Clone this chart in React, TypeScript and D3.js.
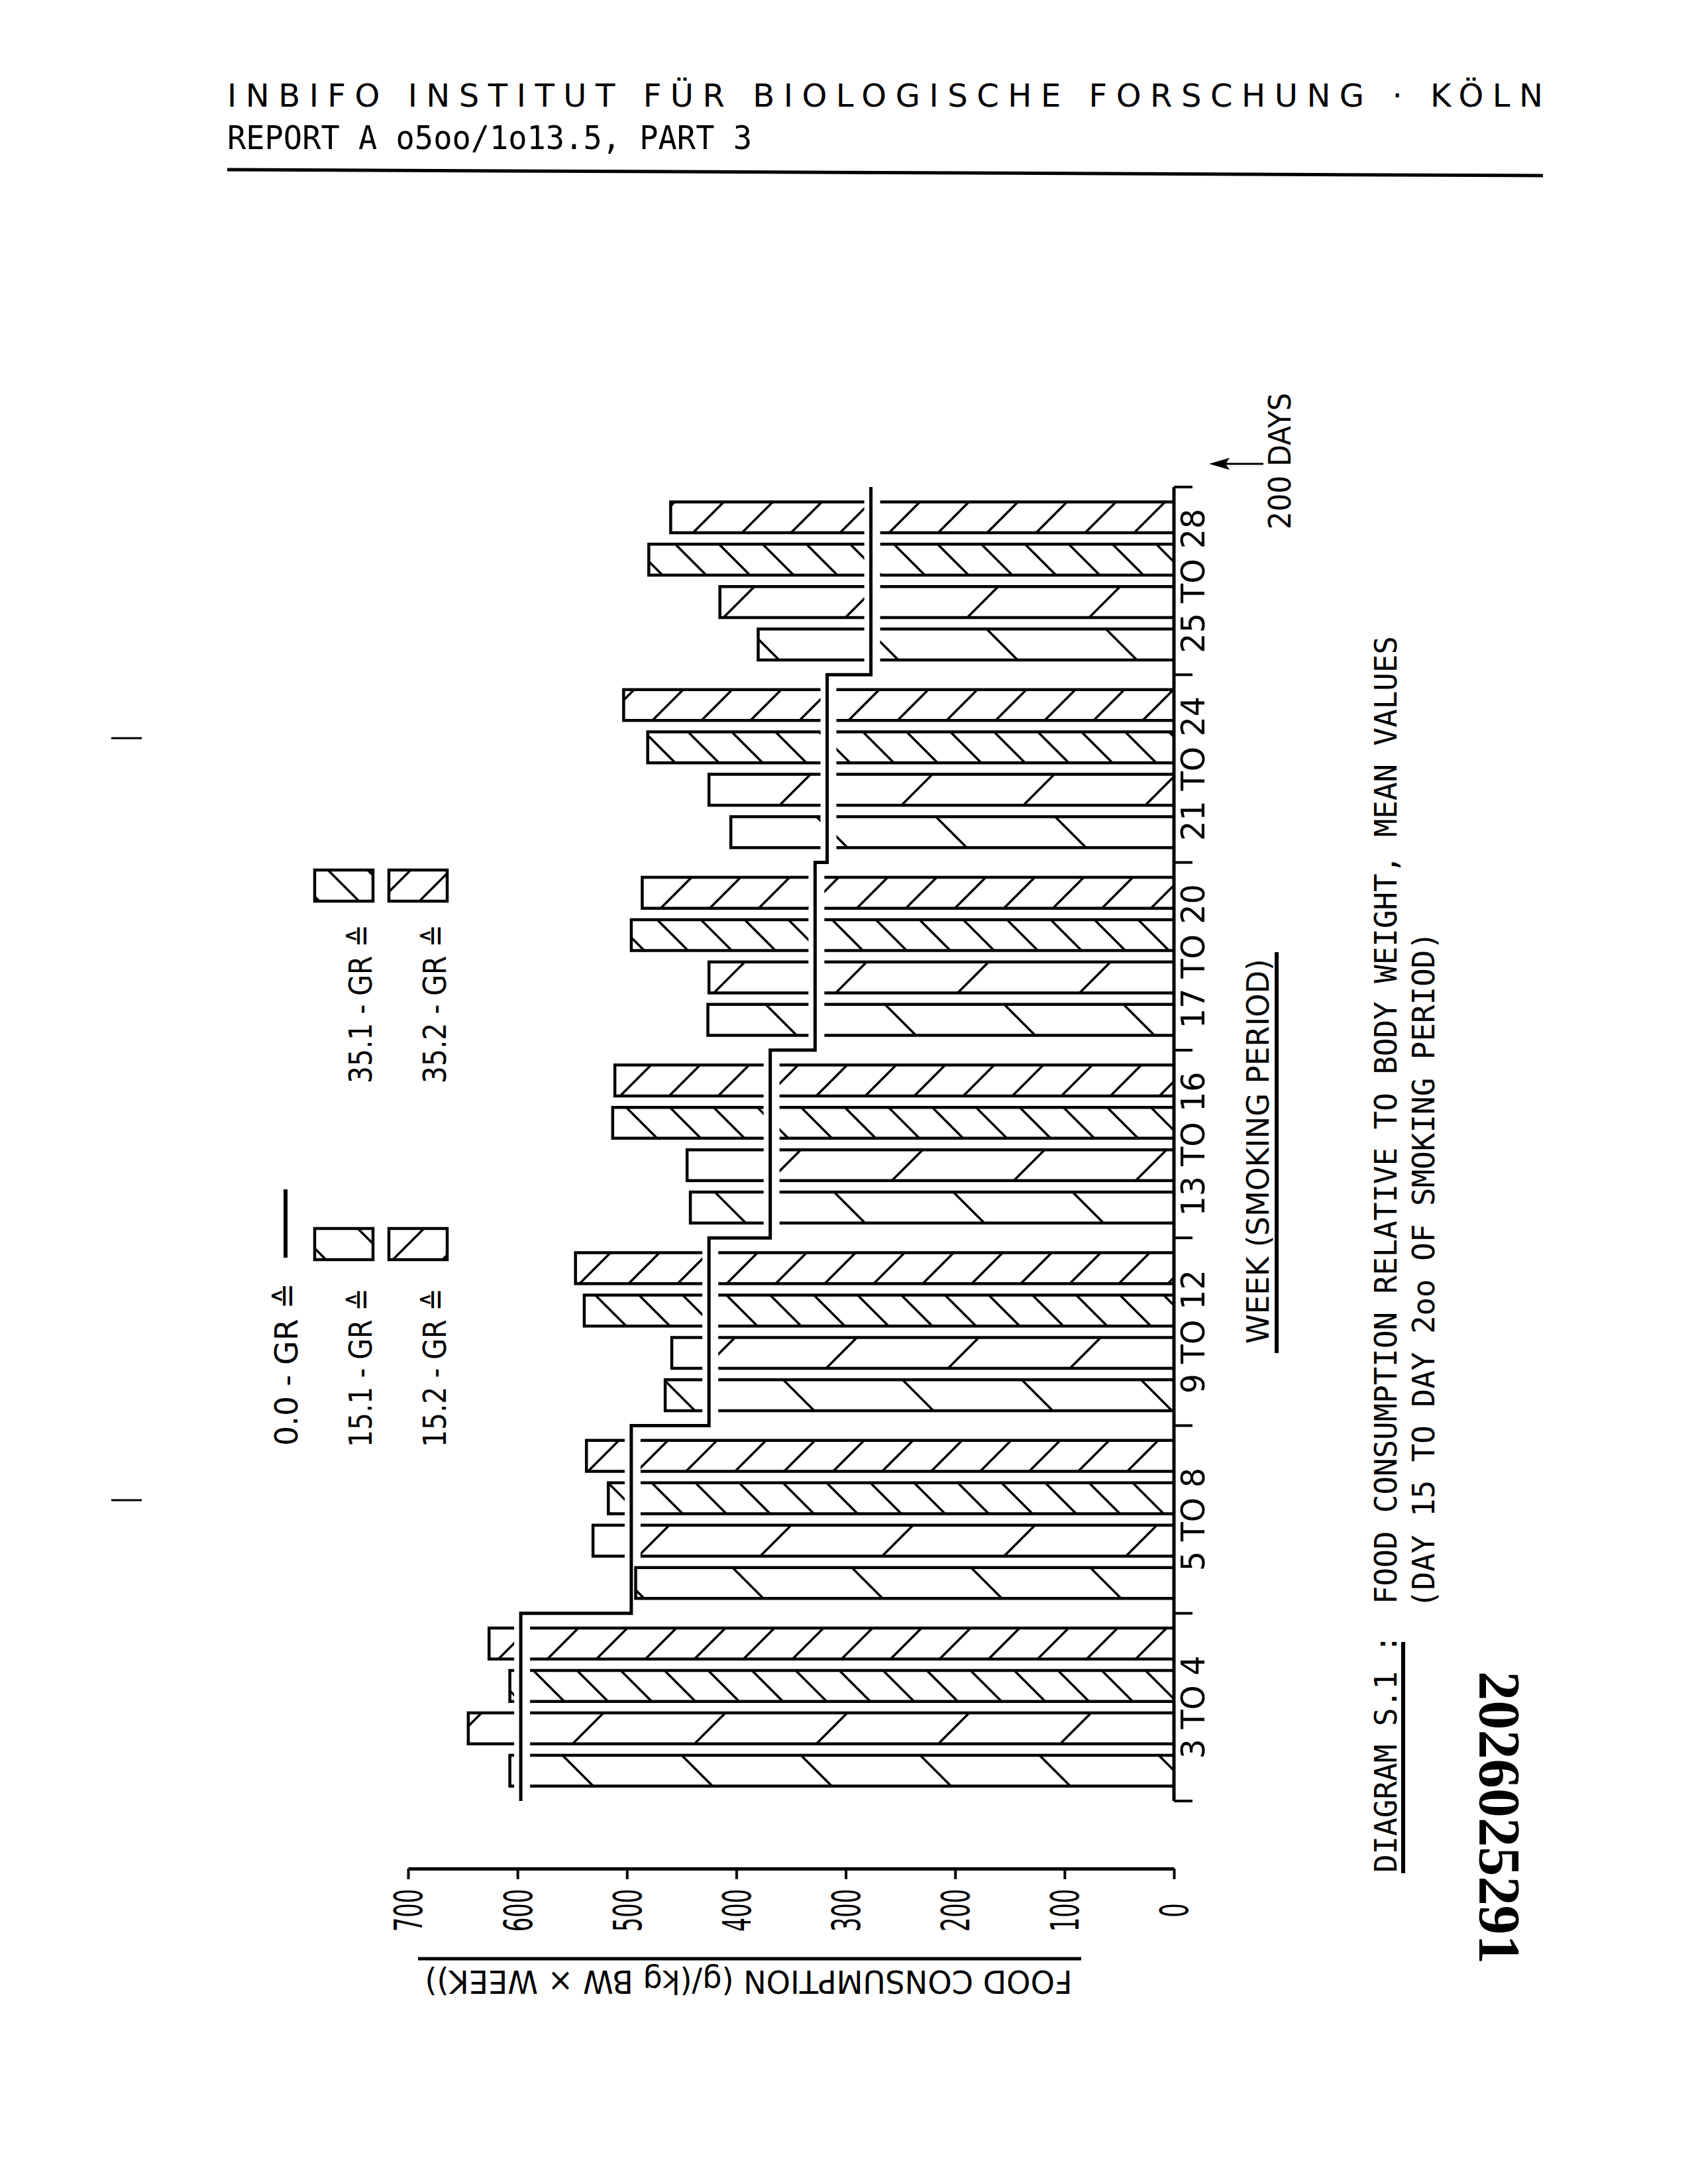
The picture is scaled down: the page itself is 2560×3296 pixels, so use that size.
import React, { useRef, useEffect } from 'react'
import * as d3 from 'd3'

// week groups along the category axis (page bottom -> top)
const weekGroups = ['3 TO 4', '5 TO 8', '9 TO 12', '13 TO 16', '17 TO 20', '21 TO 24', '25 TO 28']
// 0.0 GR control, drawn as a step line
const control = [597, 496, 425, 369, 328, 317, 277]
const gr151 = [607, 492, 465, 442, 426, 405, 380]
const gr152 = [645, 531, 459, 445, 425, 425, 415]
const gr351 = [607, 517, 539, 513, 496, 481, 480]
const gr352 = [626, 537, 547, 511, 486, 503, 460]
const seriesKeys = ['15.1', '15.2', '35.1', '35.2']
const valueTicks = [0, 100, 200, 300, 400, 500, 600, 700]

const LETTER = '"DejaVu Sans", "Noto Sans", sans-serif'
const TYPE = '"DejaVu Sans Mono", "Liberation Mono", monospace'

interface TextOpts {
  size: number
  rotate?: number
  anchor?: string
  family?: string
  weight?: string
  length?: number
  adjust?: string
  dy?: string
}

function addText(parent: any, t: string, x: number, y: number, o: TextOpts) {
  const el = parent
    .append('text')
    .attr('transform', `translate(${x},${y}) rotate(${o.rotate ?? 0})`)
    .attr('text-anchor', o.anchor ?? 'start')
    .attr('font-family', o.family ?? LETTER)
    .attr('font-size', o.size)
    .attr('font-weight', o.weight ?? 'normal')
    .attr('fill', '#000')
    .text(t)
  if (o.dy) el.attr('dy', o.dy)
  if (o.length) el.attr('textLength', o.length).attr('lengthAdjust', o.adjust ?? 'spacingAndGlyphs')
  return el
}

const App: React.FC = () => {
  const svgRef = useRef<SVGSVGElement>(null)

  useEffect(() => {
    if (!svgRef.current) return
    const svg = d3.select(svgRef.current)
    svg.selectAll('*').remove()

    svg.append('rect').attr('width', 2560).attr('height', 3296).attr('fill', '#fff')

    // hatch patterns ("\" when back is true, "/" otherwise)
    const defs = svg.append('defs')
    const hatch = (id: string, s: number, back: boolean, ox = 0, oy = 0) => {
      const p = defs
        .append('pattern')
        .attr('id', id)
        .attr('patternUnits', 'userSpaceOnUse')
        .attr('x', ox)
        .attr('y', oy)
        .attr('width', s)
        .attr('height', s)
      const d = back
        ? `M0,0L${s},${s}M${s - 3},-3L${s + 3},3M-3,${s - 3}L3,${s + 3}`
        : `M0,${s}L${s},0M-3,3L3,-3M${s - 3},${s + 3}L${s + 3},${s - 3}`
      p.append('path').attr('d', d).attr('stroke', '#000').attr('stroke-width', 3.5).attr('fill', 'none')
    }
    hatch('h151', 180, true)
    hatch('h152', 184, false)
    hatch('h351', 66, true)
    hatch('h352', 74, false)
    // legend swatches get their own phase so the lines land inside the small boxes
    hatch('l151', 95, true, 445, 1854)
    hatch('l152', 75, false, 640, 1854)
    hatch('l351', 60, true, 435, 1313)
    hatch('l352', 60, false, 620, 1313)
    const fills: { [k: string]: string } = {
      '15.1': 'url(#h151)',
      '15.2': 'url(#h152)',
      '35.1': 'url(#h351)',
      '35.2': 'url(#h352)',
    }
    const values: { [k: string]: number[] } = { '15.1': gr151, '15.2': gr152, '35.1': gr351, '35.2': gr352 }

    // header
    addText(svg, 'INBIFO INSTITUT FÜR BIOLOGISCHE FORSCHUNG · KÖLN', 343, 161, {
      size: 48,
      length: 1986,
      adjust: 'spacing',
    })
    addText(svg, 'REPORT A o5oo/1o13.5, PART 3', 343, 225, { size: 50, family: TYPE, length: 792 })
    svg.append('line').attr('x1', 343).attr('y1', 256).attr('x2', 2329).attr('y2', 265)
      .attr('stroke', '#000').attr('stroke-width', 5)

    // scan marks in the margin
    ;[1114, 2264].forEach(yy => {
      svg.append('line').attr('x1', 168).attr('x2', 214).attr('y1', yy).attr('y2', yy)
        .attr('stroke', '#000').attr('stroke-width', 3)
    })

    // scales: value runs right->left, weeks bottom->top
    const x = d3.scaleLinear().domain([0, 700]).range([1772, 616])
    const yG = d3.scaleBand().domain(weekGroups).range([2718, 735])
    const yS = d3
      .scaleBand()
      .domain(seriesKeys)
      .range([yG.bandwidth(), 0])
      .paddingInner(0.27)
      .paddingOuter(0.35)

    // bars, broken around the control line
    const gapL = 10
    const gapR = 14
    const bars = svg.append('g')
    weekGroups.forEach((wk, i) => {
      const xr = x(control[i])
      seriesKeys.forEach(key => {
        const xv = x(values[key][i])
        const y0 = (yG(wk) || 0) + (yS(key) || 0)
        const h = yS.bandwidth()
        const pieces: { a: number; b: number; edge: boolean }[] = []
        if (xv < xr - gapL) {
          pieces.push({ a: xv, b: xr - gapL, edge: true })
          pieces.push({ a: xr + gapR, b: x(0), edge: false })
        } else {
          pieces.push({ a: Math.max(xv, xr + 6), b: x(0), edge: true })
        }
        pieces.forEach(p => {
          bars.append('rect').attr('x', p.a).attr('y', y0).attr('width', p.b - p.a).attr('height', h)
            .attr('fill', fills[key])
          const path = d3.path()
          if (p.edge) {
            path.moveTo(p.b, y0)
            path.lineTo(p.a, y0)
            path.lineTo(p.a, y0 + h)
            path.lineTo(p.b, y0 + h)
          } else {
            path.moveTo(p.a, y0)
            path.lineTo(p.b, y0)
            path.moveTo(p.a, y0 + h)
            path.lineTo(p.b, y0 + h)
          }
          bars.append('path').attr('d', path.toString()).attr('fill', 'none')
            .attr('stroke', '#000').attr('stroke-width', 4.5)
        })
      })
    })

    // control step line
    const pts: [number, number][] = []
    weekGroups.forEach((wk, i) => {
      const top = yG(wk) || 0
      pts.push([x(control[i]), top + yG.bandwidth()], [x(control[i]), top])
    })
    svg.append('path').attr('d', d3.line()(pts)).attr('fill', 'none')
      .attr('stroke', '#000').attr('stroke-width', 5)

    // category axis
    svg.append('line').attr('x1', x(0)).attr('x2', x(0)).attr('y1', 735).attr('y2', 2718)
      .attr('stroke', '#000').attr('stroke-width', 5)
    const bounds = weekGroups.map(wk => yG(wk) || 0).concat([2718])
    bounds.forEach(b => {
      svg.append('line').attr('x1', x(0)).attr('x2', x(0) + 28).attr('y1', b).attr('y2', b)
        .attr('stroke', '#000').attr('stroke-width', 4)
    })
    weekGroups.forEach(wk => {
      addText(svg, wk, 1818, (yG(wk) || 0) + yG.bandwidth() / 2, {
        size: 50,
        rotate: -90,
        anchor: 'middle',
        length: 31 * wk.length - 30,
      })
    })
    addText(svg, 'WEEK (SMOKING PERIOD)', 1915, 2028, { size: 46, rotate: -90, length: 581 })
    svg.append('line').attr('x1', 1927).attr('x2', 1927).attr('y1', 2042).attr('y2', 1437)
      .attr('stroke', '#000').attr('stroke-width', 6)
    addText(svg, '200 DAYS', 1948, 799, { size: 46, rotate: -90, length: 206 })
    svg.append('line').attr('x1', 1907).attr('x2', 1850).attr('y1', 700).attr('y2', 700)
      .attr('stroke', '#000').attr('stroke-width', 3)
    svg.append('path').attr('d', 'M1825,700L1856,691L1850,700L1856,709Z').attr('fill', '#000')

    // value axis
    const ax = svg
      .append('g')
      .attr('transform', 'translate(0,2820)')
      .call(d3.axisBottom(x).tickValues(valueTicks).tickSize(16).tickSizeOuter(0).tickFormat(d3.format('d')))
    ax.attr('color', '#000')
    ax.select('.domain').attr('stroke-width', 5)
    ax.selectAll('.tick line').attr('stroke-width', 4)
    ax.selectAll('.tick text')
      .attr('y', null)
      .attr('transform', 'translate(0,63) rotate(-90)')
      .attr('dy', '0.36em')
      .attr('text-anchor', 'middle')
      .attr('font-size', 58)
      .attr('font-family', LETTER)
      .attr('textLength', (d: any) => String(d).length * 21.5)
      .attr('lengthAdjust', 'spacingAndGlyphs')
    svg.append('line').attr('x1', 631).attr('x2', 1632).attr('y1', 2956).attr('y2', 2956)
      .attr('stroke', '#000').attr('stroke-width', 5)
    addText(svg, 'FOOD CONSUMPTION (g/(kg BW × WEEK))', 1130, 2974, {
      size: 48,
      rotate: 180,
      anchor: 'middle',
      length: 977,
    })

    // legend
    addText(svg, '0.0 - GR ≙', 449, 2182, { size: 48, rotate: -90, length: 246 })
    svg.append('line').attr('x1', 431).attr('x2', 431).attr('y1', 1795).attr('y2', 1898)
      .attr('stroke', '#000').attr('stroke-width', 6)
    const legendRows = [
      { key: '15.1', fill: 'url(#l151)', base: 561, y: 2184, bx: 475, by: 1854 },
      { key: '15.2', fill: 'url(#l152)', base: 673, y: 2184, bx: 587, by: 1854 },
      { key: '35.1', fill: 'url(#l351)', base: 561, y: 1635, bx: 475, by: 1313 },
      { key: '35.2', fill: 'url(#l352)', base: 673, y: 1635, bx: 587, by: 1313 },
    ]
    legendRows.forEach(r => {
      addText(svg, `${r.key} - GR ≙`, r.base, r.y, { size: 48, rotate: -90, length: 240 })
      svg.append('rect').attr('x', r.bx).attr('y', r.by).attr('width', 88).attr('height', 47)
        .attr('fill', r.fill).attr('stroke', '#000').attr('stroke-width', 4.5)
    })

    // caption
    addText(svg, 'DIAGRAM S.1 :', 2108, 2826, { size: 46, rotate: -90, family: TYPE, length: 359 })
    svg.append('line').attr('x1', 2118).attr('x2', 2118).attr('y1', 2827).attr('y2', 2478)
      .attr('stroke', '#000').attr('stroke-width', 6)
    addText(svg, 'FOOD CONSUMPTION RELATIVE TO BODY WEIGHT, MEAN VALUES', 2108, 2421, {
      size: 46,
      rotate: -90,
      family: TYPE,
      length: 1461,
    })
    addText(svg, '(DAY 15 TO DAY 2oo OF SMOKING PERIOD)', 2165, 2427, {
      size: 46,
      rotate: -90,
      family: TYPE,
      length: 1021,
    })
    addText(svg, '2026025291', 2234, 2522, {
      size: 88,
      rotate: 90,
      family: '"Liberation Serif", "DejaVu Serif", serif',
      weight: 'bold',
      length: 442,
    })
  }, [])

  return (
    <svg
      ref={svgRef}
      width={2560}
      height={3296}
      style={{ position: 'absolute', left: 0, top: 0, display: 'block' }}
    />
  )
}

export default App
